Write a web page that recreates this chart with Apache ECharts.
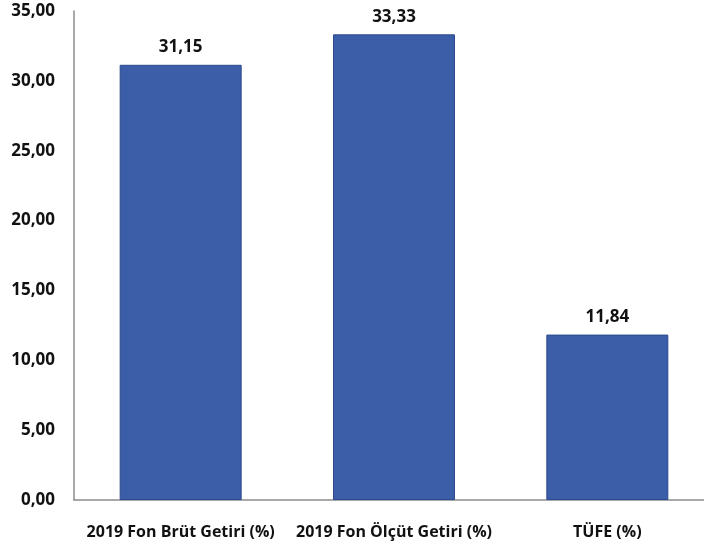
<!DOCTYPE html>
<html>
<head>
<meta charset="utf-8">
<script src="https://cdn.jsdelivr.net/npm/echarts@6/dist/echarts.min.js"></script>
<style>
  html, body { margin: 0; padding: 0; background: #fff; }
  #main { width: 704px; height: 550px; }
</style>
</head>
<body>
<div id="main"></div>
<script>
var categories = ['2019 Fon Brüt Getiri (%)', '2019 Fon Ölçüt Getiri (%)', 'TÜFE (%)'];
var values = [31.15, 33.33, 11.84];

function trNum(v) {
  return v.toFixed(2).replace('.', ',');
}

var chart = echarts.init(document.getElementById('main'));

var option = {
  animation: false,
  grid: { left: 74, right: -10, top: 11, bottom: 50, outerBoundsMode: 'none', containLabel: false },
  xAxis: {
    type: 'category',
    data: categories,
    axisLine: { lineStyle: { color: '#8c8c8c', width: 1.5 } },
    axisTick: { show: false },
    axisLabel: {
      interval: 0,
      margin: 24,
      color: '#111',
      fontFamily: 'Open Sans',
      fontWeight: 'bold',
      fontSize: 16
    }
  },
  yAxis: {
    type: 'value',
    min: 0,
    max: 35,
    interval: 5,
    splitLine: { show: false },
    axisLine: { show: true, lineStyle: { color: '#8c8c8c', width: 1.5 } },
    axisTick: { show: false },
    axisLabel: {
      margin: 19,
      color: '#111',
      fontFamily: 'Open Sans',
      fontWeight: 'bold',
      fontSize: 17,
      formatter: function (v) { return trNum(v); }
    }
  },
  series: [
    {
      type: 'bar',
      data: values,
      barWidth: 122,
      itemStyle: {
        color: '#3c5ea8',
        borderColor: '#2c4a8e',
        borderWidth: 1
      },
      label: {
        show: true,
        position: 'top',
        distance: 9,
        color: '#111',
        fontFamily: 'Open Sans',
        fontWeight: 'bold',
        fontSize: 17,
        formatter: function (p) { return trNum(p.value); }
      }
    }
  ]
};

chart.setOption(option);
</script>
</body>
</html>
